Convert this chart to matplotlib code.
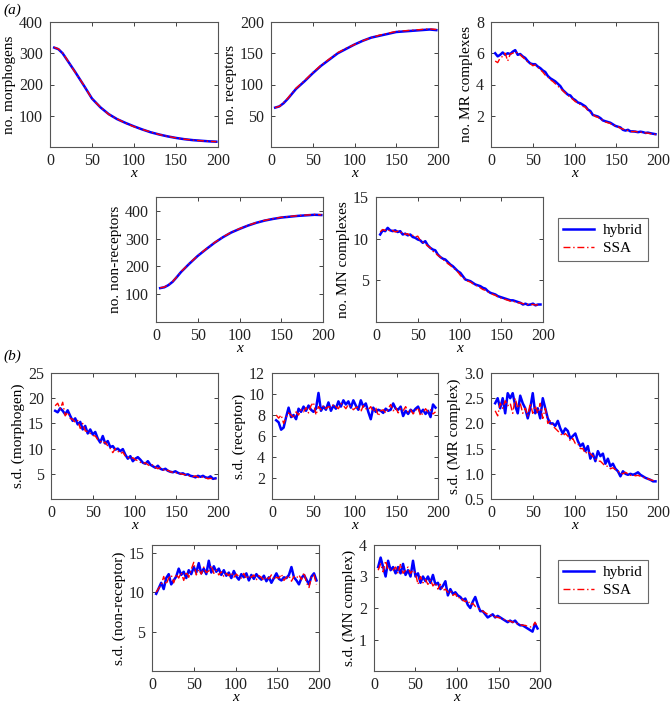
import numpy as np
import matplotlib
matplotlib.use("Agg")
import matplotlib.pyplot as plt

plt.rcParams['font.family'] = ['Liberation Serif', 'DejaVu Serif']
plt.rcParams['mathtext.fontset'] = 'stix'

# ---------------- data ----------------
x_coarse = [5, 10, 15, 20, 25, 30, 40, 50, 60, 70, 80, 90, 100, 110, 120,
            130, 140, 150, 160, 170, 180, 190, 198]
x_fine = list(range(5, 200, 3))

morph_hybrid = [318, 313, 300, 280, 260, 240, 198, 155, 127, 105, 89, 77, 66,
                56, 47, 40, 34, 29, 25, 22, 20, 18, 17]
morph_ssa = [319, 314, 301, 281, 259, 239, 199, 154, 128, 104, 90, 76, 65,
             56, 48, 40, 34, 29, 25, 22, 20, 18, 17]

rec_hybrid = [63, 65, 70, 77, 85, 93, 105, 118, 130, 140, 150, 157, 164, 170,
              175, 178, 181, 184, 185, 186, 187, 188, 187]
rec_ssa = [63, 65, 71, 78, 86, 94, 106, 119, 131, 141, 151, 158, 164, 170,
           175, 179, 182, 185, 186, 187, 188, 189, 188]

mr_hybrid = [6.0, 5.8, 5.9, 6.05, 5.9, 6.0, 5.95, 6.1, 6.2, 5.9, 5.95, 5.8, 5.7,
             5.5, 5.35, 5.3, 5.3, 5.15, 5.05, 4.9, 4.8, 4.55, 4.4, 4.3, 4.2,
             4.05, 3.9, 3.65, 3.5, 3.35, 3.3, 3.1, 3.0, 2.85, 2.8, 2.7, 2.6,
             2.4, 2.3, 2.05, 2.0, 1.95, 1.85, 1.7, 1.65, 1.6, 1.55, 1.45, 1.35,
             1.3, 1.25, 1.1, 1.05, 1.1, 1.0, 1.0, 0.98, 0.95, 0.98, 0.95, 0.9,
             0.92, 0.88, 0.85, 0.82]
mr_ssa = [5.5, 5.4, 5.7, 5.8, 6.0, 5.5, 5.95, 6.0, 6.1, 6.0, 5.9, 5.75, 5.6,
          5.45, 5.35, 5.2, 5.25, 5.1, 4.95, 4.8, 4.6, 4.5, 4.3, 4.2, 4.05, 3.9,
          3.75, 3.6, 3.45, 3.3, 3.2, 3.05, 2.9, 2.85, 2.7, 2.6, 2.55, 2.35, 2.2,
          2.1, 1.95, 1.9, 1.8, 1.7, 1.6, 1.55, 1.5, 1.4, 1.35, 1.3, 1.2, 1.15,
          1.1, 1.05, 1.0, 0.98, 1.0, 0.95, 0.95, 0.92, 0.9, 0.88, 0.86, 0.82, 0.8]

nonrec_hybrid = [122, 125, 133, 145, 162, 180, 210, 238, 262, 285, 305, 322,
                 335, 347, 357, 365, 371, 376, 379, 382, 384, 386, 385]
nonrec_ssa = [123, 126, 134, 146, 163, 181, 211, 239, 263, 286, 306, 323,
              336, 348, 358, 366, 372, 377, 380, 383, 385, 387, 386]

mn_hybrid = [10.5, 11.0, 10.9, 11.3, 11.0, 10.9, 11.0, 10.8, 10.9, 10.5, 10.6,
             10.4, 10.5, 10.2, 10.1, 9.9, 9.8, 9.5, 9.7, 9.2, 8.9, 8.7, 8.6,
             8.1, 7.8, 7.6, 7.5, 7.2, 6.9, 6.7, 6.4, 6.1, 5.9, 5.5, 5.1, 5.0,
             4.9, 4.7, 4.5, 4.4, 4.3, 4.1, 4.0, 3.7, 3.5, 3.4, 3.3, 3.1, 3.0,
             2.9, 2.8, 2.7, 2.6, 2.6, 2.5, 2.4, 2.3, 2.1, 2.2, 2.05, 2.1, 2.2,
             2.0, 2.1, 2.1]
mn_ssa = [10.8, 11.1, 11.0, 11.1, 10.9, 11.0, 10.8, 10.9, 10.7, 10.8, 10.5,
          10.6, 10.3, 10.4, 10.2, 10.3, 9.8, 9.6, 9.4, 9.1, 8.9, 8.5, 8.3, 8.0,
          7.8, 7.5, 7.3, 7.0, 6.8, 6.5, 6.3, 6.0, 5.6, 5.3, 5.1, 4.9, 4.8, 4.6,
          4.4, 4.3, 4.1, 3.9, 3.8, 3.6, 3.5, 3.3, 3.2, 3.0, 2.9, 2.8, 2.7, 2.6,
          2.5, 2.5, 2.4, 2.3, 2.3, 2.2, 2.2, 2.1, 2.1, 2.1, 2.05, 2.05, 2.0]

sd_morph_hybrid = [17.5, 17.2, 18.0, 17.5, 16.8, 17.6, 16.5, 15.5, 16.0, 14.8,
                   15.3, 13.8, 14.5, 13.0, 13.8, 12.8, 13.3, 12.0, 11.2, 12.5,
                   11.0, 11.5, 10.3, 10.5, 9.8, 10.0, 9.5, 9.9, 8.8, 8.0, 8.5,
                   7.5, 8.0, 8.3, 7.8, 7.2, 7.0, 7.5, 6.8, 6.5, 6.2, 6.6, 6.0,
                   5.8, 6.0, 5.6, 5.4, 5.3, 5.5, 5.2, 5.0, 5.1, 4.8, 4.9, 4.6,
                   4.5, 4.3, 4.6, 4.4, 4.6, 4.3, 4.2, 4.5, 4.0, 4.1]
sd_morph_ssa = [18.5, 19.0, 17.8, 19.2, 16.5, 17.2, 16.0, 15.8, 15.2, 15.6,
                14.0, 15.0, 13.5, 13.4, 13.0, 12.6, 12.5, 11.8, 11.5, 11.0,
                11.3, 10.5, 10.0, 9.2, 10.0, 9.5, 9.0, 9.3, 8.5, 8.3, 8.0, 8.2,
                7.8, 7.6, 7.3, 7.0, 7.2, 6.8, 6.5, 6.8, 6.3, 6.0, 6.2, 5.9, 5.5,
                5.7, 5.4, 5.3, 5.1, 5.3, 5.0, 4.9, 4.8, 4.7, 4.5, 4.4, 4.6, 4.3,
                4.2, 4.4, 4.2, 4.0, 4.1, 4.0, 3.9]

sd_rec_hybrid = [7.5, 7.3, 6.6, 6.8, 7.8, 8.7, 7.8, 8.0, 7.6, 8.6, 8.3, 8.8,
                 8.4, 8.9, 8.5, 8.3, 8.6, 10.1, 8.4, 8.8, 8.5, 9.2, 8.4, 8.9,
                 8.6, 9.3, 8.8, 9.4, 9.0, 9.3, 8.7, 9.4, 8.9, 8.5, 9.4, 8.8,
                 9.1, 8.3, 7.6, 8.7, 8.3, 8.5, 8.4, 8.2, 8.6, 8.4, 8.5, 9.1,
                 8.6, 8.5, 8.8, 7.9, 8.4, 8.1, 8.5, 8.3, 8.6, 8.8, 8.2, 8.5,
                 8.1, 8.4, 7.8, 9.0, 8.7]
sd_rec_ssa = [8.0, 7.7, 8.0, 7.2, 7.8, 8.2, 8.0, 7.7, 8.3, 8.0, 8.5, 8.3, 8.7,
              8.2, 8.9, 9.2, 8.0, 8.8, 8.5, 8.9, 8.6, 8.8, 8.7, 9.0, 8.8, 8.6,
              9.1, 8.9, 8.6, 9.0, 8.8, 8.5, 8.7, 8.8, 8.3, 8.9, 8.6, 8.5, 8.8,
              8.3, 8.7, 7.9, 8.4, 8.5, 8.2, 8.6, 9.0, 8.4, 8.7, 8.2, 8.6, 8.4,
              8.8, 8.3, 8.5, 8.1, 8.4, 8.7, 7.9, 8.2, 8.6, 8.3, 8.5, 8.1, 8.3]

sd_mr_hybrid = [2.4, 2.5, 2.3, 2.5, 2.2, 2.6, 2.5, 2.6, 2.35, 2.2, 2.55, 2.4,
                2.3, 2.1, 2.3, 2.6, 2.2, 2.3, 2.1, 2.5, 2.3, 2.1, 2.0, 2.0,
                1.95, 2.05, 1.9, 1.8, 1.9, 1.85, 1.7, 1.75, 1.8, 1.65, 1.55,
                1.6, 1.45, 1.55, 1.3, 1.4, 1.25, 1.45, 1.35, 1.4, 1.2, 1.3,
                1.15, 1.2, 1.1, 1.05, 0.95, 1.05, 1.0, 0.98, 1.0, 0.98, 1.0,
                1.03, 0.98, 0.95, 0.92, 0.9, 0.88, 0.85, 0.85]
sd_mr_ssa = [2.25, 2.15, 2.4, 2.3, 2.45, 2.35, 2.4, 2.2, 2.5, 2.3, 2.4, 2.2,
             2.3, 2.15, 2.4, 2.2, 2.35, 2.2, 2.4, 2.1, 2.3, 2.0, 2.05, 1.95,
             1.9, 1.85, 1.8, 1.75, 1.8, 1.75, 1.65, 1.7, 1.6, 1.6, 1.5, 1.5,
             1.4, 1.45, 1.4, 1.35, 1.3, 1.25, 1.25, 1.2, 1.15, 1.15, 1.1, 1.12,
             1.08, 1.05, 1.02, 1.0, 1.03, 1.0, 0.97, 0.98, 0.96, 0.97, 0.95,
             0.93, 0.92, 0.9, 0.88, 0.87, 0.85]

sd_nonrec_hybrid = [9.8, 10.5, 11.2, 10.4, 11.8, 12.3, 11.0, 11.5, 12.0, 13.0,
                    12.2, 12.6, 11.8, 12.8, 12.3, 13.2, 12.5, 13.7, 12.4, 13.0,
                    12.3, 14.0, 12.5, 13.3, 12.6, 13.0, 12.2, 12.8, 12.1, 12.5,
                    11.8, 12.7, 12.0, 11.6, 12.3, 11.9, 12.4, 11.5, 12.2, 11.7,
                    12.3, 11.9, 11.6, 12.1, 11.4, 11.9, 11.2, 11.8, 12.4, 11.7,
                    11.5, 11.9, 11.8, 12.2, 13.2, 11.9, 11.5, 11.0, 11.8, 12.2,
                    11.6, 11.0, 12.0, 12.4, 11.5]
sd_nonrec_ssa = [10.0, 10.5, 10.9, 12.0, 11.0, 11.8, 12.2, 11.2, 12.3, 11.8,
                 12.5, 11.5, 12.6, 11.9, 12.9, 13.8, 12.2, 12.9, 12.3, 13.2,
                 12.5, 12.7, 13.4, 12.4, 12.8, 12.2, 12.6, 12.0, 12.4, 12.1,
                 12.5, 11.9, 12.3, 12.0, 11.8, 12.4, 11.7, 12.1, 11.9, 12.2,
                 11.6, 12.1, 11.9, 11.5, 12.0, 11.7, 12.2, 11.6, 11.9, 11.8,
                 12.3, 11.5, 11.9, 12.1, 11.4, 12.0, 11.8, 12.2, 11.6, 12.5,
                 11.2, 10.6, 11.9, 12.2, 11.0]

sd_mn_hybrid = [3.3, 3.6, 3.3, 3.0, 3.5, 3.2, 3.3, 3.1, 3.3, 3.1, 3.4, 3.05,
                3.2, 3.0, 3.5, 3.0, 3.1, 2.8, 3.0, 2.85, 3.0, 2.8, 3.05, 2.75,
                2.8, 2.6, 2.7, 2.85, 2.4, 2.6, 2.45, 2.5, 2.4, 2.35, 2.25, 2.3,
                2.1, 2.0, 2.2, 2.35, 2.1, 1.9, 1.9, 1.8, 1.7, 1.75, 1.8, 1.7,
                1.75, 1.7, 1.65, 1.6, 1.55, 1.6, 1.55, 1.6, 1.5, 1.45, 1.45,
                1.4, 1.35, 1.3, 1.25, 1.5, 1.35]
sd_mn_ssa = [3.2, 3.4, 3.15, 3.5, 3.2, 3.25, 3.2, 3.3, 3.1, 3.4, 3.1, 3.2, 3.3,
             3.1, 3.2, 3.1, 2.75, 3.0, 2.8, 2.9, 2.75, 2.9, 2.7, 2.8, 2.6,
             2.75, 2.55, 2.6, 2.5, 2.55, 2.4, 2.45, 2.3, 2.35, 2.25, 2.2, 2.25,
             2.1, 2.15, 2.05, 2.0, 1.95, 1.9, 1.85, 1.8, 1.78, 1.75, 1.72, 1.7,
             1.68, 1.65, 1.62, 1.6, 1.58, 1.55, 1.55, 1.5, 1.48, 1.45, 1.45,
             1.42, 1.4, 1.4, 1.55, 1.4]

x_ticks = [0, 50, 100, 150, 200]

panels = [
    # (x, hybrid, ssa, ylabel, ylim, yticks, yticklabels, box px [l, r, t, b])
    (x_coarse, morph_hybrid, morph_ssa, 'no. morphogens', (0, 400),
     [100, 200, 300, 400], None, (50, 218, 22, 147)),
    (x_coarse, rec_hybrid, rec_ssa, 'no. receptors', (0, 200),
     [50, 100, 150, 200], None, (271, 438, 22, 147)),
    (x_fine, mr_hybrid, mr_ssa, 'no. MR complexes', (0, 8),
     [2, 4, 6, 8], None, (491, 658, 22, 147)),
    (x_coarse, nonrec_hybrid, nonrec_ssa, 'no. non-receptors', (0, 450),
     [100, 200, 300, 400], None, (156, 323, 197, 322)),
    (x_fine, mn_hybrid, mn_ssa, 'no. MN complexes', (0, 15),
     [5, 10, 15], None, (376, 543, 197, 322)),
    (x_fine, sd_morph_hybrid, sd_morph_ssa, 's.d. (morphogen)', (0, 25),
     [5, 10, 15, 20, 25], None, (51, 218, 373, 499)),
    (x_fine, sd_rec_hybrid, sd_rec_ssa, 's.d. (receptor)', (0, 12),
     [2, 4, 6, 8, 10, 12], None, (272, 438, 373, 499)),
    (x_fine, sd_mr_hybrid, sd_mr_ssa, 's.d. (MR complex)', (0.5, 3.0),
     [0.5, 1.0, 1.5, 2.0, 2.5, 3.0], ['0.5', '1.0', '1.5', '2.0', '2.5', '3.0'],
     (491, 658, 373, 499)),
    (x_fine, sd_nonrec_hybrid, sd_nonrec_ssa, 's.d. (non-receptor)', (0, 16),
     [5, 10, 15], None, (152, 319, 545, 671)),
    (x_fine, sd_mn_hybrid, sd_mn_ssa, 's.d. (MN complex)', (0, 4),
     [1, 2, 3, 4], None, (374, 540, 545, 671)),
]

W, H = 671, 705
fig = plt.figure(figsize=(W / 100, H / 100), dpi=100)

FS = 11.5
LFS = 11
axes = []
for (xs, hy, ss, ylab, ylim, yt, ytl, (l, r, t, b)) in panels:
    ax = fig.add_axes([l / W, 1 - b / H, (r - l) / W, (b - t) / H])
    hl, = ax.plot(xs, hy, color='#0000ff', lw=1.8, solid_joinstyle='round',
                  zorder=2, label='hybrid')
    sl, = ax.plot(xs, ss, color='#ff0000', lw=1.0, linestyle=(0, (5, 2, 1, 2)),
                  zorder=3, label='SSA')
    ax.set_xlim(0, 200)
    ax.set_ylim(*ylim)
    ax.set_xticks(x_ticks)
    ax.set_yticks(yt)
    if ytl is not None:
        ax.set_yticklabels(ytl)
    ax.tick_params(direction='in', length=3, width=0.6, top=True, right=True,
                   labelsize=FS, colors='#222222')
    ax.tick_params(axis='x', pad=4)
    ax.tick_params(axis='y', pad=5)
    for s in ax.spines.values():
        s.set_color('#555555')
        s.set_linewidth(0.8)
    ax.set_ylabel(ylab, fontsize=LFS, labelpad=2)
    ax.set_xlabel('x', fontsize=LFS, style='italic', labelpad=-1)
    axes.append((ax, hl, sl))

# legends
for (ax, hl, sl), (ll, lt) in zip([axes[4], axes[9]], [(558, 218), (558, 560)]):
    leg = fig.legend([hl, sl], ['hybrid', 'SSA'], loc='upper left',
                     bbox_to_anchor=(ll / W, 1 - lt / H), fontsize=LFS,
                     frameon=True, fancybox=False, handlelength=2.0,
                     handletextpad=0.6, borderpad=0.35, labelspacing=0.3,
                     borderaxespad=0)
    leg.get_frame().set_edgecolor('#444444')
    leg.get_frame().set_linewidth(0.8)

fig.text(3 / W, 1 - 10 / H, '(a)', fontsize=LFS, style='italic', va='center')
fig.text(3 / W, 1 - 356 / H, '(b)', fontsize=LFS, style='italic', va='center')

fig.savefig('out.png', dpi=100)
